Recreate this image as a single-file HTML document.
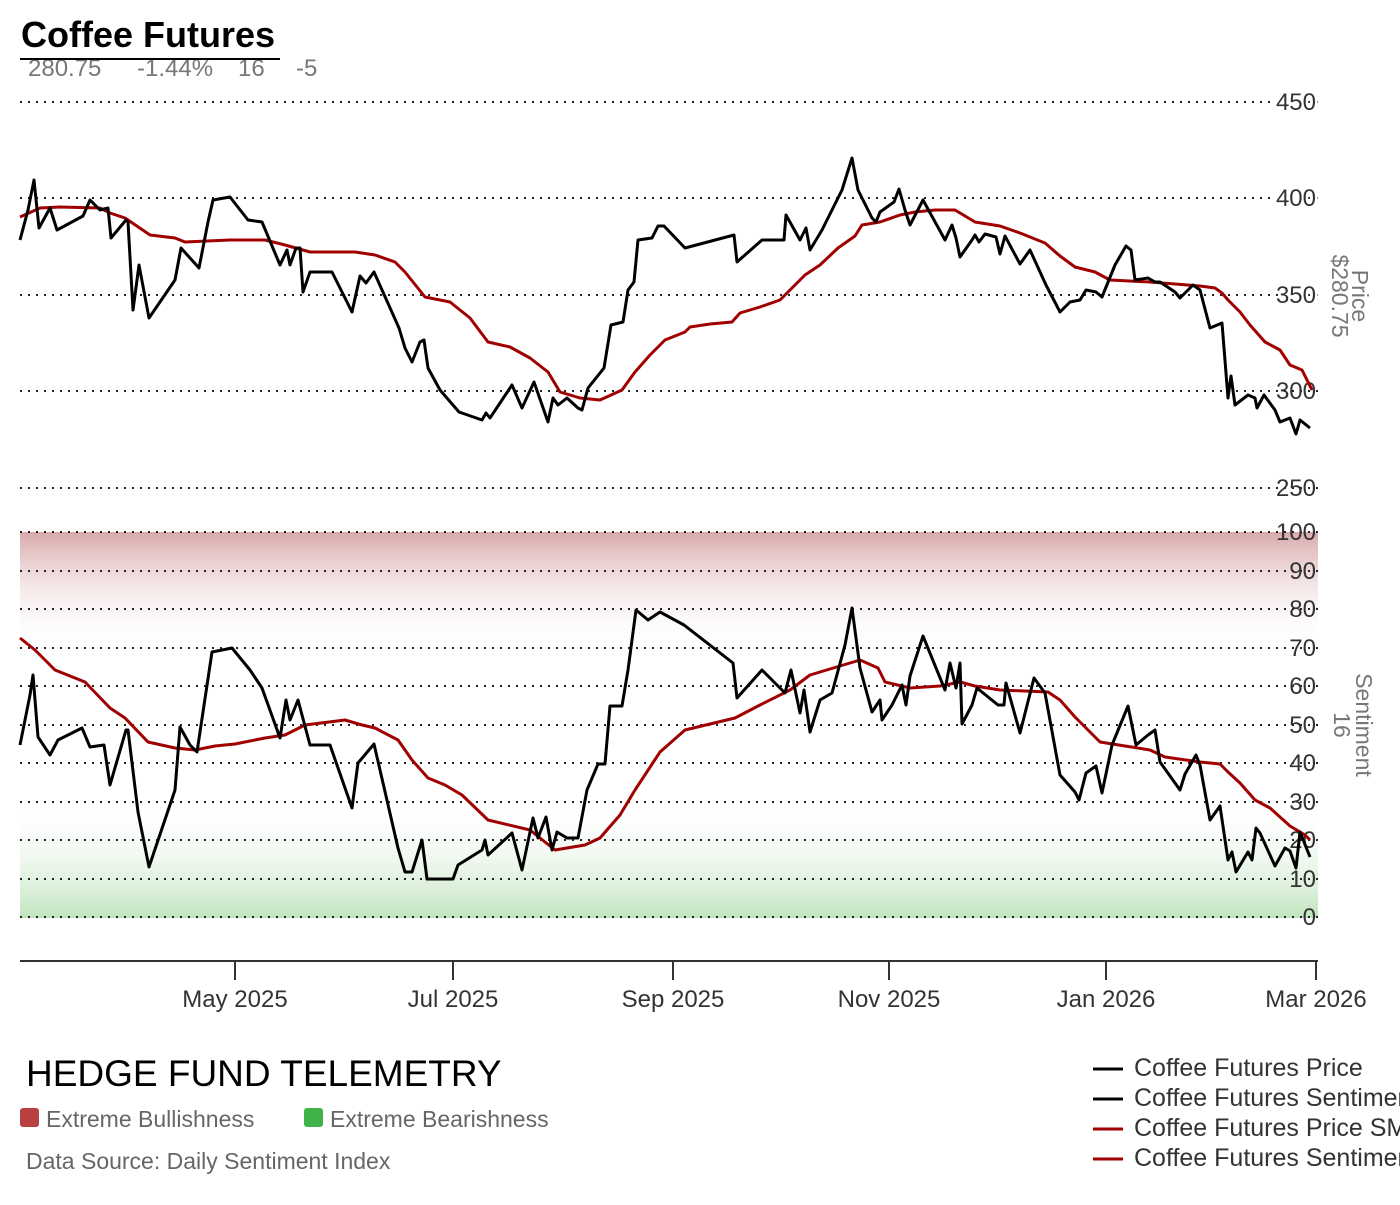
<!DOCTYPE html><html><head><meta charset="utf-8"><style>
body{margin:0;background:#fff;width:1400px;height:1200px;overflow:hidden;font-family:"Liberation Sans",sans-serif}
</style></head><body>
<svg width="1400" height="1200" xmlns="http://www.w3.org/2000/svg" font-family="Liberation Sans, sans-serif">
<defs>
<linearGradient id="rg" x1="0" y1="0" x2="0" y2="1"><stop offset="0" stop-color="#d9a9ab"/><stop offset="1" stop-color="#fff" stop-opacity="0"/></linearGradient>
<linearGradient id="gg" x1="0" y1="0" x2="0" y2="1"><stop offset="0" stop-color="#fff" stop-opacity="0"/><stop offset="1" stop-color="#bfe4bd"/></linearGradient>
</defs>
<rect x="20" y="532" width="1298" height="118" fill="url(#rg)"/>
<rect x="20" y="800" width="1298" height="118" fill="url(#gg)"/>
<g stroke="#222" stroke-width="2" stroke-dasharray="2,6">
<line x1="20" y1="102" x2="1318" y2="102"/><line x1="20" y1="198" x2="1318" y2="198"/><line x1="20" y1="295" x2="1318" y2="295"/><line x1="20" y1="391" x2="1318" y2="391"/><line x1="20" y1="488" x2="1318" y2="488"/>
<line x1="20" y1="532" x2="1318" y2="532"/><line x1="20" y1="571" x2="1318" y2="571"/><line x1="20" y1="609" x2="1318" y2="609"/><line x1="20" y1="648" x2="1318" y2="648"/><line x1="20" y1="686" x2="1318" y2="686"/><line x1="20" y1="725" x2="1318" y2="725"/><line x1="20" y1="763" x2="1318" y2="763"/><line x1="20" y1="802" x2="1318" y2="802"/><line x1="20" y1="840" x2="1318" y2="840"/><line x1="20" y1="879" x2="1318" y2="879"/><line x1="20" y1="917" x2="1318" y2="917"/>
</g>
<g font-size="24" fill="#333" text-anchor="end">
<text x="1316" y="110" stroke="#fff" stroke-width="5" paint-order="stroke">450</text><text x="1316" y="206" stroke="#fff" stroke-width="5" paint-order="stroke">400</text><text x="1316" y="303" stroke="#fff" stroke-width="5" paint-order="stroke">350</text><text x="1316" y="399">300</text><text x="1316" y="496">250</text>
<text x="1316" y="540">100</text><text x="1316" y="579">90</text><text x="1316" y="617">80</text><text x="1316" y="656">70</text><text x="1316" y="694">60</text><text x="1316" y="733">50</text><text x="1316" y="771">40</text><text x="1316" y="810">30</text><text x="1316" y="848">20</text><text x="1316" y="887">10</text><text x="1316" y="925">0</text>
</g>
<g font-size="23" fill="#777">
<text transform="translate(1352,296) rotate(90)" text-anchor="middle">Price</text>
<text transform="translate(1332,296) rotate(90)" text-anchor="middle">$280.75</text>
<text transform="translate(1356,725) rotate(90)" text-anchor="middle">Sentiment</text>
<text transform="translate(1334,725) rotate(90)" text-anchor="middle">16</text>
</g>
<g fill="none" stroke-width="3" stroke-linejoin="round">
<polyline stroke="#a00000" points="20,217 40,208 60,207 100,208 110,213 125,218 150,235 175,238 185,242 230,240 265,240 285,245 310,252 355,252 375,255 395,262 405,272 425,297 450,302 470,318 488,342 510,347 530,358 548,372 560,392 580,398 600,400 622,390 635,372 650,355 665,340 685,332 690,327 710,324 732,322 740,313 760,307 780,300 790,290 805,275 820,265 838,248 855,236 862,225 880,222 900,215 915,212 935,210 955,210 960,213 975,222 1000,226 1020,233 1045,243 1060,256 1075,267 1095,272 1110,280 1150,282 1175,284 1200,286 1215,288 1222,293 1228,300 1240,312 1250,325 1265,342 1280,350 1290,365 1302,370 1312,390"/>
<polyline stroke="#000" points="20,240 28,210 34,180 39,228 50,208 57,230 83,216 90,200 100,210 108,208 111,238 126,220 128,222 133,310 139,265 149,318 175,280 181,248 199,268 208,222 213,200 230,197 248,220 262,222 280,265 287,250 290,265 296,248 300,248 303,292 310,272 332,272 352,312 360,276 366,283 374,272 399,328 405,348 412,362 420,342 424,340 428,368 440,390 459,412 482,420 486,413 490,418 512,385 522,408 534,382 548,422 553,398 558,405 567,398 578,408 582,410 588,388 604,368 611,325 623,322 628,290 634,282 638,240 652,238 658,226 664,226 685,248 734,235 737,262 762,240 784,240 786,215 800,240 806,228 810,250 822,230 842,190 852,158 858,190 872,218 876,222 880,212 894,202 899,189 905,210 910,225 923,200 945,240 952,225 956,238 960,257 972,240 975,235 979,242 985,234 996,237 1000,254 1005,236 1020,264 1030,250 1046,285 1060,312 1070,302 1080,300 1086,290 1096,292 1102,297 1115,265 1126,246 1131,250 1135,280 1148,278 1155,282 1160,282 1175,292 1180,298 1193,285 1200,290 1210,328 1222,323 1228,398 1231,376 1235,405 1248,395 1255,398 1257,408 1264,395 1275,410 1280,422 1290,418 1296,434 1300,420 1310,428"/>
<polyline stroke="#a00000" points="20,638 35,650 55,670 85,682 110,708 125,718 148,742 175,748 195,750 215,746 235,744 265,738 285,735 305,725 345,720 362,725 375,728 398,740 412,760 428,778 445,785 462,795 488,820 530,830 555,850 585,845 600,838 620,815 635,790 660,752 685,730 735,718 760,705 790,690 810,675 840,666 860,660 878,668 885,682 910,688 940,686 960,682 975,686 1000,690 1048,692 1060,700 1075,717 1100,742 1125,746 1150,750 1165,757 1200,762 1220,764 1228,772 1240,783 1255,800 1270,808 1290,826 1305,835 1310,840"/>
<polyline stroke="#000" points="20,745 30,695 33,675 38,737 50,755 58,740 82,728 90,747 104,745 110,785 126,730 128,730 138,812 149,867 175,790 180,727 190,745 197,752 212,652 232,648 250,670 262,688 280,738 286,700 290,720 298,700 310,745 330,745 352,808 358,763 374,744 398,848 405,872 412,872 422,840 427,879 453,879 458,865 482,850 485,840 488,855 512,833 522,870 533,818 538,838 546,817 552,850 557,832 567,838 578,838 587,790 598,764 605,764 610,706 622,706 628,670 636,610 648,620 660,612 684,625 733,663 737,698 762,670 785,693 791,670 800,713 804,690 810,732 820,700 832,693 845,645 852,608 860,668 872,712 880,700 882,720 892,705 902,685 906,705 910,676 923,636 945,690 950,663 956,688 960,663 962,724 972,705 977,688 998,705 1004,705 1006,683 1020,733 1034,678 1045,693 1060,775 1075,792 1079,800 1086,773 1096,766 1102,793 1112,745 1128,706 1136,745 1148,735 1155,730 1160,762 1180,790 1185,774 1196,755 1200,765 1210,820 1220,806 1228,860 1232,852 1236,872 1248,852 1252,860 1256,828 1260,833 1275,866 1285,848 1290,851 1296,868 1300,832 1310,857"/>
</g>
<line x1="20" y1="961" x2="1318" y2="961" stroke="#333" stroke-width="2"/>
<g stroke="#333" stroke-width="2"><line x1="235" y1="961" x2="235" y2="980"/><line x1="453" y1="961" x2="453" y2="980"/><line x1="673" y1="961" x2="673" y2="980"/><line x1="889" y1="961" x2="889" y2="980"/><line x1="1106" y1="961" x2="1106" y2="980"/><line x1="1316" y1="961" x2="1316" y2="980"/></g>
<g font-size="24" fill="#333" text-anchor="middle">
<text x="235" y="1007">May 2025</text><text x="453" y="1007">Jul 2025</text><text x="673" y="1007">Sep 2025</text><text x="889" y="1007">Nov 2025</text><text x="1106" y="1007">Jan 2026</text><text x="1316" y="1007">Mar 2026</text>
</g>
<text x="21" y="47" font-size="36" font-weight="bold" fill="#000">Coffee Futures</text>
<g font-size="24" fill="#777"><text x="28" y="76">280.75</text><text x="137" y="76">-1.44%</text><text x="238" y="76">16</text><text x="296" y="76">-5</text></g>
<line x1="20" y1="59" x2="280" y2="59" stroke="#000" stroke-width="2"/>
<text x="26" y="1086" font-size="37" fill="#000">HEDGE FUND TELEMETRY</text>
<rect x="20" y="1108" width="19" height="19" rx="3" fill="#b94040"/>
<text x="46" y="1127" font-size="23" fill="#666">Extreme Bullishness</text>
<rect x="304" y="1108" width="19" height="19" rx="3" fill="#3fb34a"/>
<text x="330" y="1127" font-size="23" fill="#666">Extreme Bearishness</text>
<text x="26" y="1169" font-size="23" fill="#666">Data Source: Daily Sentiment Index</text>
<g font-size="25" fill="#333">
<line x1="1093" y1="1069" x2="1123" y2="1069" stroke="#000" stroke-width="3"/><text x="1134" y="1076">Coffee Futures Price</text>
<line x1="1093" y1="1099" x2="1123" y2="1099" stroke="#000" stroke-width="3"/><text x="1134" y="1106">Coffee Futures Sentiment</text>
<line x1="1093" y1="1129" x2="1123" y2="1129" stroke="#a00000" stroke-width="3"/><text x="1134" y="1136">Coffee Futures Price SMA</text>
<line x1="1093" y1="1159" x2="1123" y2="1159" stroke="#a00000" stroke-width="3"/><text x="1134" y="1166">Coffee Futures Sentiment SMA</text>
</g>
</svg>
</body></html>
